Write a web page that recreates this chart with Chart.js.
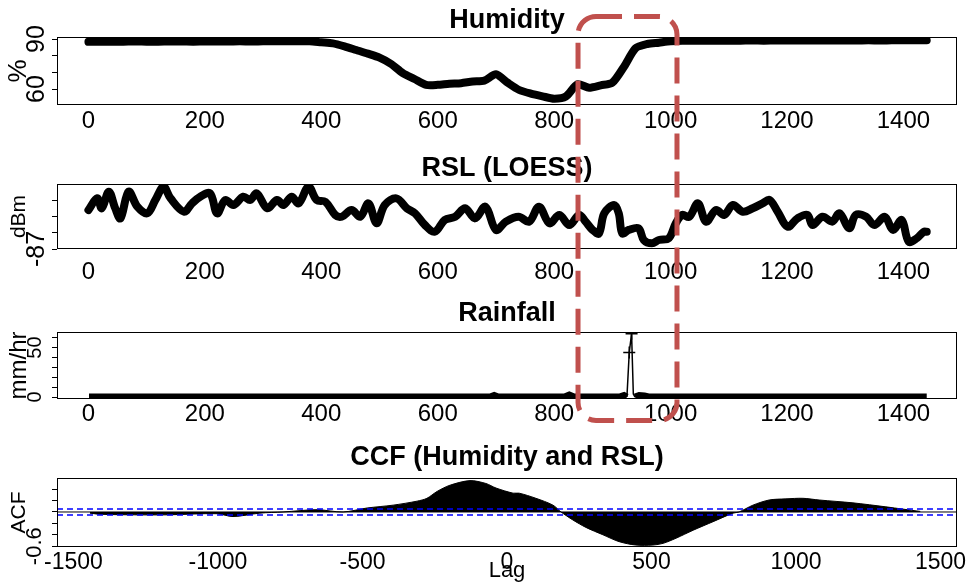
<!DOCTYPE html>
<html>
<head>
<meta charset="utf-8">
<script src="https://cdn.jsdelivr.net/npm/chart.js@4.4.0/dist/chart.umd.min.js"></script>
<style>
  body { margin: 0; background: #fff; width: 972px; height: 585px; overflow: hidden; position: relative; }
  canvas { position: absolute; left: 0; }
  #hl { position: absolute; left: 0; top: 0; pointer-events: none; }
</style>
</head>
<body>
<canvas id="humChart" width="972" height="140" style="top:0px"></canvas>
<canvas id="rslChart" width="972" height="150" style="top:140px"></canvas>
<canvas id="rainChart" width="972" height="145" style="top:290px"></canvas>
<canvas id="ccfChart" width="972" height="150" style="top:435px"></canvas>
<svg id="hl" width="972" height="585"></svg>
<script>
// humidity (%), one reading every 20 min
const humMinute = [0,20,40,60,80,100,120,140,160,180,200,220,240,260,280,300,320,340,360,380,
  400,420,440,460,480,500,520,540,560,580,600,620,640,660,680,700,720,740,760,780,
  800,820,840,860,880,900,920,940,960,980,1000,1020,1040,1060,1080,1100,1120,1140,1160,1180,
  1200,1220,1240,1260,1280,1300,1320,1340,1360,1380,1400,1420,1440];
const humValue = [88.3,88.4,88.4,88.4,88.5,88.4,88.4,88.5,88.5,88.4,88.5,88.5,88.5,88.6,88.5,88.6,88.6,88.6,88.7,88.6,
  88.0,87.4,85.6,83.4,81.2,78.8,75.0,69.5,66.0,62.5,62.5,63.2,63.5,64.5,65.0,68.8,63.8,59.4,57.2,55.6,
  54.2,55.5,62.8,60.8,62.2,63.8,73.4,84.5,87.0,87.8,88.6,89.0,88.9,89.0,89.0,89.0,89.0,89.1,89.0,89.1,
  89.1,89.1,89.1,89.1,89.1,89.1,89.1,89.2,89.1,89.2,89.2,89.2,89.2];

// RSL after LOESS smoothing (dBm)
const rslMinute = [0,15,23,35,46,55,69,84,101,115,129,141,164,178,192,209,221,235,249,266,278,289,307,324,335,349,361,378,392,407,
  424,435,452,467,481,495,509,529,547,561,578,595,612,630,647,664,682,700,717,739,757,774,792,809,826,843,854,866,877,886,
  903,911,917,928,945,954,968,980,997,1009,1020,1032,1047,1061,1078,1092,1107,1124,1141,1158,1170,1184,1201,1218,1235,1244,1261,1278,1290,1307,
  1318,1336,1350,1368,1382,1397,1409,1423,1435,1440];
const rslValue = [-84.61,-83.89,-84.50,-83.48,-84.50,-85.12,-83.48,-84.40,-84.81,-83.99,-83.18,-83.89,-84.71,-84.20,-83.79,-83.58,-84.81,-83.99,-84.30,-83.79,-83.99,-83.58,-84.50,-83.99,-84.30,-83.79,-84.20,-83.18,-83.99,-84.10,
  -84.91,-85.02,-84.61,-85.02,-84.20,-85.42,-84.30,-83.89,-84.50,-84.81,-85.53,-85.94,-85.22,-85.02,-84.50,-85.12,-84.40,-85.83,-85.32,-85.02,-85.32,-84.40,-85.42,-84.91,-85.53,-84.91,-85.32,-85.83,-86.04,-84.81,
  -84.30,-84.81,-86.04,-85.83,-85.73,-86.45,-86.65,-86.45,-86.34,-85.42,-84.91,-85.02,-84.20,-85.32,-84.61,-84.91,-84.30,-84.71,-84.50,-84.20,-83.99,-84.71,-85.63,-85.12,-84.91,-85.53,-85.02,-85.32,-84.81,-85.73,
  -84.91,-85.02,-85.53,-85.02,-85.83,-85.22,-86.55,-86.34,-85.94,-85.94];

// rainfall (mm/hr)
const rainMinute = [1,690,697,704,818,826,834,912,920,925,929,933,936,939,946,955,962,1440];
const rainValue = [0,0,1.5,0,0,2,0,0,1.5,0,45,64,3,0,1.5,1,0,0];

// cross-correlation humidity vs RSL
const ccfLag = [-1443,-1408,-1290,-1176,-1003,-948,-855,-775,-657,-567,-484,-394,-311,-277,-242,-197,-128,-73,-38,21,
  42,100,159,187,228,273,332,388,446,505,540,585,644,713,782,803,851,907,965,1024,1080,1197,1311,1370,1430];
const ccfValue = [-0.02,-0.04,-0.05,-0.05,-0.03,-0.08,-0.02,0.0,0.04,0.0,0.07,0.12,0.19,0.24,0.36,0.47,0.55,0.50,0.42,0.33,
  0.33,0.24,0.12,0.0,-0.14,-0.27,-0.40,-0.52,-0.58,-0.58,-0.55,-0.46,-0.32,-0.17,-0.02,0.0,0.12,0.21,0.23,0.24,0.21,0.16,0.09,0.05,0.01];
const ccfBound = 0.053;

const minuteTicks = [0,200,400,600,800,1000,1200,1400];
const lagTicks = [-1500,-1000,-500,0,500,1000,1500];
const humTicks = [60,70,80,90];
const humTickLabels = [60,90];
const rslTicks = [-87,-86,-85,-84];
const rslTickLabels = [-87];
const rainTicks = [0,10,20,30,40,50,60];
const rainTickLabels = [0,50];
const ccfTicks = [-0.6,-0.4,-0.2,0,0.2,0.4];
const ccfTickLabels = [-0.6];
const highlightMinutes = [841, 1011];

const FONT = "'Liberation Sans', Arial, Helvetica, sans-serif";
const mctx = document.createElement('canvas').getContext('2d');
function textW(t, size, family) { mctx.font = size + 'px ' + family; return mctx.measureText(t).width; }
const hasNarrow = textW('1400', 30, "'Liberation Sans Narrow', monospace") !== textW('1400', 30, 'monospace');
const minuteFont = hasNarrow
  ? {family: "'Liberation Sans Narrow', " + FONT, size: 30, lineHeight: 1}
  : {family: FONT, size: 24, lineHeight: 1};

const xy = (xs, ys) => xs.map((x, i) => ({x: x, y: ys[i]}));

const frame = {
  id: 'frame',
  afterDatasetsDraw(chart) {
    const a = chart.chartArea, ctx = chart.ctx;
    ctx.save();
    ctx.strokeStyle = '#000';
    ctx.lineWidth = 1;
    ctx.strokeRect(a.left + 0.5, a.top + 0.5, a.right - a.left - 1, a.bottom - a.top - 1);
    ctx.restore();
  }
};

function panel(id, o) {
  const widest = Math.max(...o.yShown.map(v => textW(String(v), o.yTickSize, FONT)));
  const yPad = 57 - 5 - o.yLabelX - widest / 2;
  return new Chart(document.getElementById(id), {
    type: 'line',
    data: {datasets: o.datasets},
    options: {
      responsive: false,
      animation: false,
      layout: {padding: {left: 0, right: 15, top: 0, bottom: 0}},
      plugins: {
        legend: {display: false},
        tooltip: {enabled: false},
        title: {
          display: true, text: o.title, fullSize: false, color: '#000',
          font: {family: FONT, size: 27, weight: 'bold', lineHeight: 1},
          padding: {top: o.titlePad[0], bottom: o.titlePad[1]}
        }
      },
      scales: {
        x: {
          type: 'linear', min: o.xMin, max: o.xMax,
          afterBuildTicks: s => { s.ticks = o.xTicks.map(v => ({value: v})); },
          afterFit: s => { s.height = o.xHeight; s.paddingLeft = 0; s.paddingRight = 0; },
          grid: {display: false},
          border: {display: false},
          ticks: {color: '#000', font: o.xFont, padding: o.xPad, maxRotation: 0, autoSkip: false, callback: v => String(v)},
          title: o.xTitle
            ? {display: true, text: o.xTitle, color: '#000', font: {family: FONT, size: 22, lineHeight: 1}, padding: {top: 0, bottom: 3}}
            : {display: false}
        },
        y: {
          type: 'linear', min: o.yMin, max: o.yMax,
          afterBuildTicks: s => { s.ticks = o.yTicks.map(v => ({value: v})); },
          afterFit: s => { s.width = 57; s.paddingTop = 0; s.paddingBottom = 0; },
          grid: {drawOnChartArea: false, drawTicks: true, tickLength: 5, color: '#000'},
          border: {display: false},
          ticks: {
            color: '#000', font: {family: FONT, size: o.yTickSize, lineHeight: 1},
            minRotation: 90, maxRotation: 90, crossAlign: 'center', padding: yPad, autoSkip: false,
            callback: v => o.yShown.includes(v) ? String(v) : ''
          },
          title: {display: true, text: o.yTitle, color: '#000',
            font: {family: FONT, size: o.yTitleSize, lineHeight: 1}, padding: {top: 19 - o.yTitleSize / 2, bottom: 0}}
        }
      }
    },
    plugins: [frame]
  });
}

const thick = {borderColor: '#000', borderWidth: 8, pointRadius: 0, borderCapStyle: 'round', borderJoinStyle: 'round'};

const humChart = panel('humChart', {
  title: 'Humidity', titlePad: [7, 3],
  datasets: [Object.assign({data: xy(humMinute, humValue), tension: 0.25}, thick)],
  xMin: -54, xMax: 1492, xTicks: minuteTicks, xFont: minuteFont, xPad: -4, xHeight: 35,
  yMin: 50.4, yMax: 91.2, yTicks: humTicks, yShown: humTickLabels, yTickSize: 25, yLabelX: 37,
  yTitle: '%', yTitleSize: 26
});

panel('rslChart', {
  title: 'RSL (LOESS)', titlePad: [15.5, 1.5],
  datasets: [Object.assign({data: xy(rslMinute, rslValue), tension: 0.35}, thick)],
  xMin: -54, xMax: 1492, xTicks: minuteTicks, xFont: minuteFont, xPad: 3, xHeight: 41,
  yMin: -87, yMax: -83.01, yTicks: rslTicks, yShown: rslTickLabels, yTickSize: 25, yLabelX: 37,
  yTitle: 'dBm', yTitleSize: 21
});

panel('rainChart', {
  title: 'Rainfall', titlePad: [10, 5],
  datasets: [{
    data: xy(rainMinute, rainValue), borderColor: '#000', tension: 0,
    segment: {borderWidth: c => (c.p0.parsed.y < 3 && c.p1.parsed.y < 3) ? 7 : 1.5},
    pointStyle: 'cross', pointBorderColor: '#000', pointBorderWidth: 1.5,
    pointRadius: c => (c.raw && c.raw.y > 10) ? 6 : 0
  }],
  xMin: -54, xMax: 1492, xTicks: minuteTicks, xFont: minuteFont, xPad: -5, xHeight: 36,
  yMin: -2, yMax: 65.7, yTicks: rainTicks, yShown: rainTickLabels, yTickSize: 20, yLabelX: 35,
  yTitle: 'mm/hr', yTitleSize: 24
});

const ccfMin = -1557, ccfMax = 1557;
panel('ccfChart', {
  title: 'CCF (Humidity and RSL)', titlePad: [9.5, 6.5],
  datasets: [
    {data: [{x: ccfMin, y: ccfBound}, {x: ccfMax, y: ccfBound}], borderColor: '#0000ff', borderWidth: 1.5, borderDash: [6, 4], pointRadius: 0, order: 0},
    {data: [{x: ccfMin, y: -ccfBound}, {x: ccfMax, y: -ccfBound}], borderColor: '#0000ff', borderWidth: 1.5, borderDash: [6, 4], pointRadius: 0, order: 0},
    {data: [{x: ccfMin, y: 0}, {x: ccfMax, y: 0}], borderColor: '#000', borderWidth: 1, pointRadius: 0, order: 1},
    {data: xy(ccfLag, ccfValue), fill: 'origin', backgroundColor: '#000', borderColor: '#000', borderWidth: 1, pointRadius: 0, tension: 0.3, order: 2}
  ],
  xMin: ccfMin, xMax: ccfMax, xTicks: lagTicks, xFont: {family: FONT, size: 23, lineHeight: 1}, xPad: -3.5, xHeight: 38,
  xTitle: 'Lag',
  yMin: -0.614, yMax: 0.596, yTicks: ccfTicks, yShown: ccfTickLabels, yTickSize: 22, yLabelX: 35,
  yTitle: 'ACF', yTitleSize: 21
});

// red dashed highlight of the rain event window
const hx0 = humChart.scales.x.getPixelForValue(highlightMinutes[0]);
const hx1 = humChart.scales.x.getPixelForValue(highlightMinutes[1]);
const ns = 'http://www.w3.org/2000/svg';
const r = document.createElementNS(ns, 'rect');
r.setAttribute('x', hx0); r.setAttribute('y', 16.5);
r.setAttribute('width', hx1 - hx0); r.setAttribute('height', 404);
r.setAttribute('rx', 18); r.setAttribute('fill', 'none');
r.setAttribute('stroke', '#c0504d'); r.setAttribute('stroke-width', 5);
r.setAttribute('stroke-dasharray', '26 12');
document.getElementById('hl').appendChild(r);
</script>
</body>
</html>
